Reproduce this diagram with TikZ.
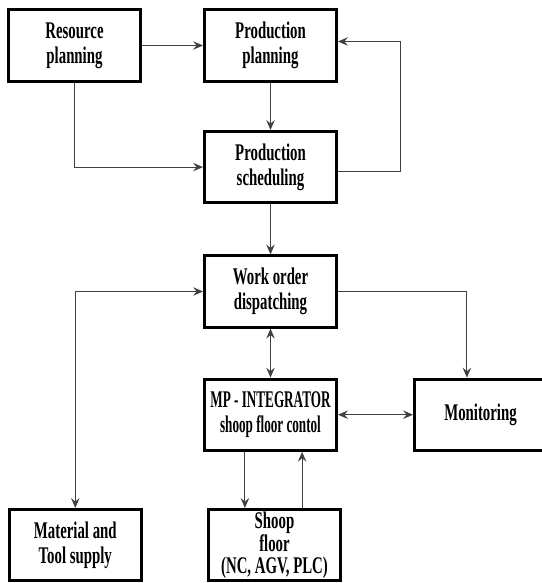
\documentclass[tikz,border=0pt]{standalone}
\usepackage{fontspec}
\usetikzlibrary{arrows.meta}
\newfontfamily\boxfont[FakeStretch=0.62]{Liberation Serif}
\newfontfamily\narrowfont[FakeStretch=0.55]{Liberation Serif}

\begin{document}
\begin{tikzpicture}[>={Stealth[length=7pt,width=6pt,inset=2.5pt]},
        box/.style={draw, line width=2.2pt, minimum width=3.3cm, minimum height=1.78cm,
            align=center, inner sep=1pt, font=\boxfont\bfseries\fontsize{17}{18}\selectfont},
        link/.style={line width=0.6pt, draw=black!75}]
            \useasboundingbox (-1.8625,1.1375) rectangle (11.6875,-13.4375);
            \clip (-1.8625,1.1375) rectangle (11.6875,-13.4375);

            \node[box] (1) {Resource\\planning};
            \node[box] (2) [node distance=4.9cm, right of=1] {Production\\planning};
            \node[box] (3) [node distance=3.04cm, below of=2] {Production\\scheduling};
            \node[box] (4) [node distance=3.11cm, below of=3] {Work order\\dispatching};
            \node[box, font=\narrowfont\bfseries\fontsize{17}{18}\selectfont] (5)
                [node distance=3.08cm, below of=4] {MP - INTEGRATOR\\shoop floor contol};
            \node[box] (6) [node distance=5.25cm, right of=5] {Monitoring};
            \node[box, font=\boxfont\bfseries\fontsize{17}{15.5}\selectfont] (7)
                [node distance=3.26cm, below of=5, xshift=0.1cm] {Shoop\\floor\\(NC, AGV, PLC)};
            \node[box] (8) [node distance=4.98cm, left of=7] {Material and\\Tool supply};

            \draw [link, ->] (1) to (2);
            \draw [link, ->] (2) to (3);
            \draw [link, ->] (1) |- (3);
            \draw [link, ->] ([yshift=-0.1cm]3.east) -- ++(1.55,0) |- ([yshift=0.1cm]2.east);

            \draw [link, ->] (3) to (4);
            \draw [link, <->] (4) to (5);
            \draw [link, ->] (4) -| ([xshift=-0.34cm]6.north);
            \draw [link, <->] (8) |- (4);

            \draw [link, <->] (5) to (6);
            \draw [link, ->] ([xshift=-0.64cm]5.south) -- ([xshift=-0.64cm]5.south |- 7.north);
            \draw [link, ->] ([xshift=0.69cm]7.north) -- ([xshift=0.69cm]7.north |- 5.south);
        \end{tikzpicture}
\end{document}
